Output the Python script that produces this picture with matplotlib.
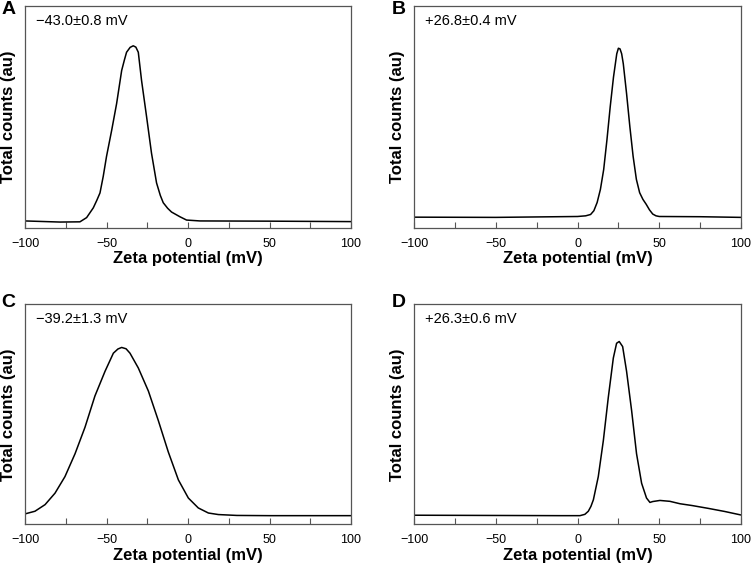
import matplotlib
matplotlib.use("Agg")
from matplotlib import pyplot as plt
from matplotlib.ticker import MultipleLocator

plt.rcParams['font.family'] = ['Liberation Sans', 'DejaVu Sans']

# Panel A: -43.0 mV
a_x = [-100, -78.5, -66.3, -62.2, -58.1, -56, -54, -52, -50, -46.8, -43.8, -40.7,
       -39, -37.7, -35.5, -33.6, -32, -30.5, -28.5, -25.4, -22.4, -19.3, -17, -15.2,
       -12.5, -10.1, -5, -0.9, 7.3, 50, 100]
a_y = [3.3, 2.8, 2.9, 4.8, 9.2, 12.5, 15.9, 23.4, 32.3, 44.2, 56.1, 71,
       75.8, 79.2, 81.4, 82.1, 81.5, 79.2, 66.5, 50.1, 33.8, 20.4, 14.8, 11.5,
       9.0, 7.3, 5.2, 3.7, 3.3, 3.2, 3.0]

# Panel B: +26.8 mV
b_x = [-100, -50, 0, 5, 8, 10, 12, 14, 16, 18, 20, 22, 24, 25, 26, 27, 28, 30, 32,
       34, 36, 38, 40, 42, 44, 46, 48, 50, 75, 100]
b_y = [5.0, 4.9, 5.3, 5.6, 6.2, 7.9, 11.6, 17.5, 26.4, 39.8, 54.7, 68, 78.5, 81, 80.7,
       78.5, 74, 60.6, 45.8, 32.4, 22, 16, 13, 10.8, 8.3, 6.4, 5.6, 5.3, 5.2, 4.9]

# Panel C: -39.2 mV
c_x = [-100, -93.9, -87.7, -81.6, -75.5, -69.3, -63.2, -57.1, -50.9, -45.8, -43,
       -40.7, -38, -35.6, -30.5, -24.3, -18.2, -12.1, -5.9, 0.2, 6.3, 12.5, 18.6,
       30, 50, 100]
c_y = [4.8, 6.0, 9.0, 14.2, 21.7, 32.1, 44.1, 58.3, 69.5, 77.7, 79.6,
       80.3, 79.7, 77.7, 71, 60.5, 47.1, 32.9, 20.2, 12, 7.5, 5.2, 4.5,
       4.1, 4.0, 4.0]

# Panel D: +26.3 mV
d_x = [-100, -10.7, 1.5, 4.5, 6.6, 8.2, 9.7, 12.7, 15.8, 18.8, 21.9, 23.9, 25.5,
       27.6, 30, 33.1, 36.1, 39.2, 42.2, 44.3, 46, 50.4, 56.5, 62.7, 70, 80, 90, 100]
d_y = [4.2, 4.0, 4.0, 4.6, 6.0, 8.2, 11.2, 21.7, 38.1, 57.5, 75.5, 82.2, 83,
       80.7, 69.5, 51.6, 32.1, 18.7, 12, 10, 10.4, 10.9, 10.5, 9.4, 8.6, 7.3, 5.9, 4.3]

letters = ['A', 'B', 'C', 'D']
labels = ['\u221243.0\u00b10.8 mV', '+26.8\u00b10.4 mV', '\u221239.2\u00b11.3 mV', '+26.3\u00b10.6 mV']
series = [(a_x, a_y), (b_x, b_y), (c_x, c_y), (d_x, d_y)]

# axes boxes in figure fractions (left, bottom, width, height)
boxes = [(0.0333, 0.5974, 0.4341, 0.3920),
         (0.5513, 0.5974, 0.4354, 0.3920),
         (0.0333, 0.0750, 0.4341, 0.3888),
         (0.5513, 0.0750, 0.4354, 0.3888)]
letter_pos = [(0.002, 0.998), (0.521, 0.998), (0.002, 0.482), (0.521, 0.482)]

fig = plt.figure(figsize=(7.51, 5.67), dpi=100)

for box, (xs, ys), letter, lab, lp in zip(boxes, series, letters, labels, letter_pos):
    ax = fig.add_axes(box)
    ax.plot(xs, ys, color='black', lw=1.1)
    ax.set_xlim(-100, 100)
    ax.set_ylim(0, 100)
    ax.xaxis.set_major_locator(MultipleLocator(50))
    ax.xaxis.set_minor_locator(MultipleLocator(25))
    ax.tick_params(axis='x', which='both', direction='in', length=4, width=0.8,
                   labelsize=9, pad=7, color='#555555')
    ax.set_yticks([])
    for sp in ax.spines.values():
        sp.set_color('#555555')
        sp.set_linewidth(0.9)
    ax.set_xlabel('Zeta potential (mV)', fontsize=12, fontweight='bold', labelpad=1)
    ax.set_ylabel('Total counts (au)', fontsize=12, fontweight='bold')
    ax.yaxis.set_label_coords(-0.028, 0.5)
    ax.text(0.034, 0.933, lab, transform=ax.transAxes, fontsize=10.5, va='center', ha='left')
    fig.text(lp[0], lp[1], letter, fontsize=14, fontweight='bold', va='top', ha='left')

fig.savefig('out.png', dpi=100)
